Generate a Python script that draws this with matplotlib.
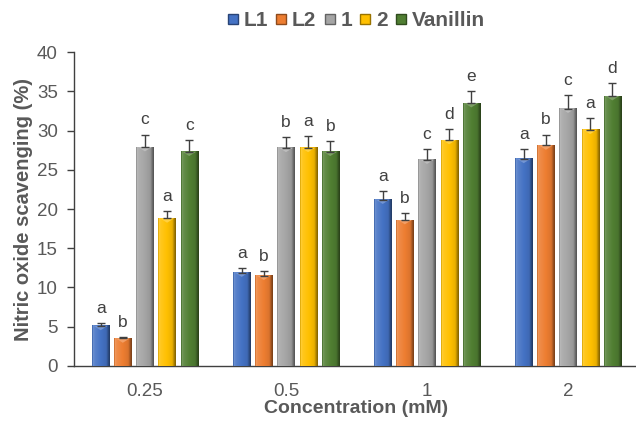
import numpy as np
import matplotlib.pyplot as plt
from matplotlib.patches import Polygon
from matplotlib.lines import Line2D
from matplotlib.colors import to_rgb

concentrations = ['0.25', '0.5', '1', '2']
series_names = ['L1', 'L2', '1', '2', 'Vanillin']

l1 = [5.1, 11.9, 21.2, 26.4]
l2 = [3.5, 11.5, 18.6, 28.1]
c1 = [27.9, 27.8, 26.3, 32.8]
c2 = [18.8, 27.8, 28.8, 30.1]
vanillin = [27.3, 27.3, 33.5, 34.4]

l1_err = [0.35, 0.6, 1.1, 1.3]
l2_err = [0.2, 0.6, 0.9, 1.4]
c1_err = [1.6, 1.4, 1.4, 1.7]
c2_err = [0.9, 1.5, 1.4, 1.5]
vanillin_err = [1.5, 1.4, 1.6, 1.7]

l1_letters = ['a', 'a', 'a', 'a']
l2_letters = ['b', 'b', 'b', 'b']
c1_letters = ['c', 'b', 'c', 'c']
c2_letters = ['a', 'a', 'd', 'a']
vanillin_letters = ['c', 'b', 'e', 'd']

colors = ['#4472C4', '#ED7D31', '#A5A5A5', '#FFC000', '#507E32']
text_color = '#595959'

values = [l1, l2, c1, c2, vanillin]
errors = [l1_err, l2_err, c1_err, c2_err, vanillin_err]
letters = [l1_letters, l2_letters, c1_letters, c2_letters, vanillin_letters]

plt.rcParams['font.family'] = ['Liberation Sans', 'DejaVu Sans']

fig = plt.figure(figsize=(6.36, 4.24), dpi=100)
ax = fig.add_axes([0.117, 0.137, 0.887, 0.740])

x = np.arange(len(concentrations))
pitch = 0.157
width = 0.122

# shading profile across a bar, gives the bevelled look
t = np.linspace(0, 1, 64)
shade = np.interp(t, [0, 0.05, 0.14, 0.5, 0.8, 0.93, 1],
                  [0.72, 1.25, 1.12, 1.0, 0.92, 0.62, 0.5])


def shaded(rgb, f):
    rgb = np.array(rgb)
    if f >= 1:
        return rgb + (1 - rgb) * (f - 1)
    return rgb * f


for i, (vals, errs, labs, col) in enumerate(zip(values, errors, letters, colors)):
    pos = x + (i - 2) * pitch
    bars = ax.bar(pos, vals, width, color=col, zorder=2)
    base = to_rgb(col)
    img = np.array([[shaded(base, f) for f in shade]])
    for b in bars:
        x0, w, h = b.get_x(), b.get_width(), b.get_height()
        ax.imshow(img, extent=(x0, x0 + w, 0, h), aspect='auto',
                  interpolation='bilinear', zorder=3)
        tri = Polygon([(x0 + 0.1 * w, h), (x0 + 0.9 * w, h), (x0 + w / 2, h - 0.55)],
                      closed=True, color=shaded(base, 1.25), lw=0, zorder=4)
        ax.add_patch(tri)
    ax.errorbar(pos, vals, yerr=[np.zeros(len(vals)), errs], fmt='none',
                ecolor='#404040', elinewidth=1, capsize=3, capthick=1, zorder=5)
    for px, v, e, lab in zip(pos, vals, errs, labs):
        ax.text(px, v + e + 0.9, lab, ha='center', va='bottom',
                fontsize=12.5, color='#404040')

ax.set_xlim(-0.5, len(concentrations) - 0.5)
ax.set_ylim(0, 40)
ax.set_yticks(np.arange(0, 41, 5))
ax.set_xticks(x)
ax.set_xticklabels(concentrations)
ax.tick_params(axis='x', length=0, pad=12, labelsize=13.5, labelcolor=text_color)
ax.tick_params(axis='y', length=5, width=1, color='#404040', direction='out',
               labelsize=13.5, labelcolor=text_color, pad=7)
for side in ['top', 'right']:
    ax.spines[side].set_visible(False)
for side in ['left', 'bottom']:
    ax.spines[side].set_color('#404040')
    ax.spines[side].set_linewidth(1)

ax.set_xlabel('Concentration (mM)', fontsize=14, fontweight='bold',
              color=text_color, labelpad=0)
ax.set_ylabel('Nitric oxide scavenging (%)', fontsize=14.5, fontweight='bold',
              color=text_color, labelpad=3)

handles = [Line2D([], [], marker='s', ls='none', markersize=6.5, markerfacecolor=c,
                  markeredgecolor=shaded(to_rgb(c), 0.6)) for c in colors]
fig.legend(handles, series_names, loc='center', bbox_to_anchor=(0.56, 0.952),
           ncol=5, frameon=False, handlelength=0.5, handletextpad=0.25,
           columnspacing=0.4, prop={'weight': 'bold', 'size': 15},
           labelcolor=text_color)

fig.savefig('out.png', dpi=100)
